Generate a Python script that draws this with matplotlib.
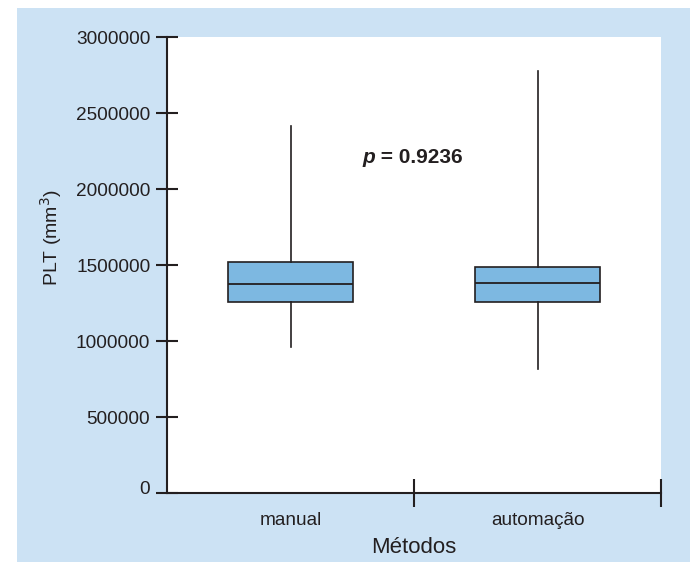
import matplotlib
matplotlib.use("Agg")
import matplotlib.pyplot as plt
from matplotlib.patches import Rectangle
from matplotlib.transforms import ScaledTranslation

# Platelet counts by counting method (box statistics)
methods = ["manual", "automação"]
whisker_low = [958000, 816000]
quartile1 = [1258000, 1258000]
medians = [1377000, 1384000]
quartile3 = [1522000, 1485000]
whisker_high = [2415000, 2776000]
y_ticks = [0, 500000, 1000000, 1500000, 2000000, 2500000, 3000000]
p_value = "0.9236"

INK = "#231F20"
PANEL = "#CCE2F4"
BOX = "#7DB8E1"

plt.rcParams["font.family"] = ["Liberation Sans", "DejaVu Sans"]

fig = plt.figure(figsize=(6.9, 5.62), dpi=100)
fig.patch.set_facecolor("white")
panel = Rectangle((17 / 690, 0), 1 - 17 / 690, 1 - 8 / 562,
                  transform=fig.transFigure, facecolor=PANEL,
                  edgecolor="none", zorder=-10)
fig.add_artist(panel)

ax = fig.add_axes([167 / 690, 1 - 493 / 562, (661 - 167) / 690, (493 - 37) / 562])
ax.set_zorder(1)
ax.set_facecolor("white")

stats = []
for i, name in enumerate(methods):
    stats.append(dict(label=name, whislo=whisker_low[i], q1=quartile1[i],
                      med=medians[i], q3=quartile3[i], whishi=whisker_high[i]))

positions = [0.5, 1.5]
ax.bxp(stats, positions=positions, widths=0.505, patch_artist=True,
       showcaps=False, showfliers=False,
       boxprops=dict(facecolor=BOX, edgecolor=INK, linewidth=1.2),
       medianprops=dict(color=INK, linewidth=1.3),
       whiskerprops=dict(color=INK, linewidth=1.2))

ax.set_xlim(0, 2)
ax.set_ylim(0, 3000000)

for side in ("top", "right"):
    ax.spines[side].set_visible(False)
for side in ("left", "bottom"):
    ax.spines[side].set_color(INK)
    ax.spines[side].set_linewidth(1.5)

ax.set_yticks(y_ticks)
ax.set_yticklabels([str(v) for v in y_ticks])
ax.tick_params(axis="y", direction="inout", length=16, width=1.5, color=INK,
               labelsize=13.7, labelcolor=INK, pad=4)

# group separators on the category axis
ax.set_xticks([1, 2])
ax.set_xticklabels([])
ax.tick_params(axis="x", which="major", direction="inout", length=20, width=1.5,
               color=INK)
ax.set_xticks(positions, minor=True)
ax.set_xticklabels(methods, minor=True)
ax.tick_params(axis="x", which="minor", length=0, labelsize=13.7,
               labelcolor=INK, pad=14)

# lift the zero label slightly above the baseline
zero_label = ax.get_yticklabels()[0]
zero_label.set_transform(zero_label.get_transform()
                         + ScaledTranslation(0, 6 / 100, fig.dpi_scale_trans))

ax.set_xlabel("Métodos", fontsize=16, color=INK)
ax.xaxis.set_label_coords(0.5, -0.1206)
ax.xaxis.label.set_va("center")

ax.set_ylabel("PLT (mm$^3$)", fontsize=14, color=INK)
ax.yaxis.set_label_coords(-0.235, 0.56)
ax.yaxis.label.set_va("center")

p_txt = ax.text(0.79, 2210000, "p", fontsize=15, fontweight="bold",
                fontstyle="italic", color=INK, va="center", ha="left")
ax.annotate(" = " + p_value, xy=(1, 0.5), xycoords=p_txt, va="center",
            ha="left", fontsize=15, fontweight="bold", color=INK)

fig.savefig("out.png", dpi=100, facecolor=fig.get_facecolor())
